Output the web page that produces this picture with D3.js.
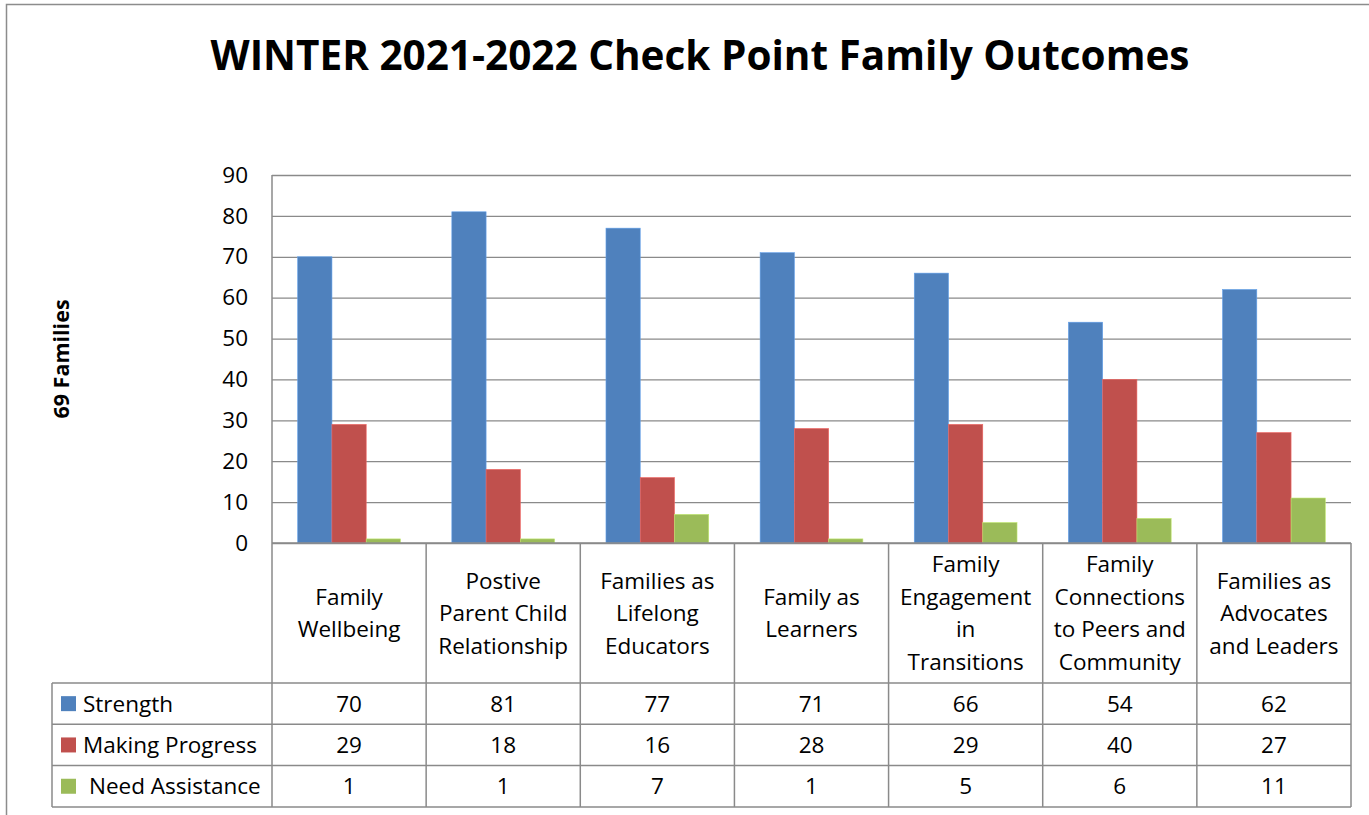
<!DOCTYPE html>
<html>
<head>
<meta charset="utf-8">
<script src="https://cdn.jsdelivr.net/npm/d3@7"></script>
<style>
  body { margin: 0; background: #fff; }
  svg text { font-family: "Open Sans", "Noto Sans", sans-serif; fill: #000; }
</style>
</head>
<body>
<svg id="chart" width="1369" height="815"></svg>
<script>
// chart data
const title = "WINTER 2021-2022 Check Point Family Outcomes";
const yTitle = "69 Families";
const categories = [
  ["Family", "Wellbeing"],
  ["Postive", "Parent Child", "Relationship"],
  ["Families as", "Lifelong", "Educators"],
  ["Family as", "Learners"],
  ["Family", "Engagement", "in", "Transitions"],
  ["Family", "Connections", "to Peers and", "Community"],
  ["Families as", "Advocates", "and Leaders"]
];
const seriesNames = ["Strength", "Making Progress", "Need Assistance"];
const strength = [70, 81, 77, 71, 66, 54, 62];
const makingProgress = [29, 18, 16, 28, 29, 40, 27];
const needAssistance = [1, 1, 7, 1, 5, 6, 11];
const yTicks = [0, 10, 20, 30, 40, 50, 60, 70, 80, 90];
const colors = ["#4F81BD", "#C0504D", "#9BBB59"];

const values = [strength, makingProgress, needAssistance];

const svg = d3.select("#chart");
const gridColor = "#8a8a8a";
const fs = "22.5px";

// layout
const plotLeft = 272, plotRight = 1351, plotTop = 175, base = 543;
const headBottom = 683, rowH = 41.3;
const tableLeft = 52;

// outer frame
svg.append("path")
  .attr("d", "M6.5,815 L6.5,4.5 L1369,4.5")
  .attr("fill", "none").attr("stroke", "#8c8c8c").attr("stroke-width", 1.5);

// title
svg.append("text")
  .attr("x", 700).attr("y", 70)
  .attr("text-anchor", "middle")
  .style("font-size", "40.5px").style("font-weight", "bold")
  .text(title);

// scales
const x = d3.scaleBand().domain(d3.range(categories.length)).range([plotLeft, plotRight]);
const bw = x.bandwidth();
const x1 = d3.scaleBand().domain(d3.range(seriesNames.length)).range([bw / 6, bw * 5 / 6]);
const y = d3.scaleLinear().domain([0, 90]).range([base, plotTop]);

// gridlines + y labels
const yAxis = svg.append("g")
  .attr("transform", `translate(${plotLeft},0)`)
  .call(d3.axisLeft(y).tickValues(yTicks).tickSize(-(plotRight - plotLeft)).tickPadding(24));
yAxis.select(".domain").remove();
yAxis.selectAll(".tick line").attr("stroke", gridColor).attr("stroke-width", 1.3);
yAxis.selectAll(".tick text")
  .style("font-size", fs)
  .attr("font-family", null);

// y title
svg.append("text")
  .attr("transform", "translate(69,359) rotate(-90)")
  .attr("text-anchor", "middle")
  .style("font-size", "21.5px").style("font-weight", "bold")
  .text(yTitle);

// bars
const groups = svg.append("g").selectAll("g")
  .data(categories.map((c, i) => i))
  .join("g")
  .attr("transform", i => `translate(${x(i)},0)`);

groups.selectAll("rect")
  .data(i => values.map((v, s) => ({ s: s, v: v[i] })))
  .join("rect")
  .attr("x", d => x1(d.s))
  .attr("width", x1.bandwidth())
  .attr("y", d => y(d.v))
  .attr("height", d => base - y(d.v))
  .attr("fill", d => colors[d.s])
  .attr("stroke", d => d3.color(colors[d.s]).brighter(0.6))
  .attr("stroke-width", 0.6);

// table lines
const tableBottom = headBottom + rowH * 3;
const lines = svg.append("g").attr("stroke", gridColor).attr("stroke-width", 1.5);
// vertical axis line
lines.append("line").attr("x1", plotLeft).attr("x2", plotLeft).attr("y1", plotTop).attr("y2", tableBottom);
// category separators
x.domain().forEach(i => {
  lines.append("line")
    .attr("x1", x(i) + bw).attr("x2", x(i) + bw)
    .attr("y1", base).attr("y2", tableBottom);
});
// horizontal lines
lines.append("line").attr("x1", plotLeft).attr("x2", plotRight).attr("y1", base).attr("y2", base);
[0, 1, 2, 3].forEach(r => {
  lines.append("line")
    .attr("x1", tableLeft).attr("x2", plotRight)
    .attr("y1", headBottom + r * rowH).attr("y2", headBottom + r * rowH);
});
lines.append("line").attr("x1", tableLeft).attr("x2", tableLeft).attr("y1", headBottom).attr("y2", tableBottom);

// category labels
const lineH = 32.5;
const midHead = (base + headBottom) / 2;
categories.forEach((c, i) => {
  const t = svg.append("text")
    .attr("text-anchor", "middle")
    .style("font-size", fs);
  c.forEach((ln, k) => {
    t.append("tspan")
      .attr("x", x(i) + bw / 2)
      .attr("y", midHead + (k - (c.length - 1) / 2) * lineH + 8)
      .text(ln);
  });
});

// legend + values
seriesNames.forEach((name, s) => {
  const cy = headBottom + rowH * s + rowH / 2;
  svg.append("rect")
    .attr("x", 61).attr("y", cy - 7.5)
    .attr("width", 15).attr("height", 15)
    .attr("fill", colors[s]);
  svg.append("text")
    .attr("x", s === 2 ? 89 : 83).attr("y", cy + 8)
    .style("font-size", fs)
    .text(name);
  values[s].forEach((v, i) => {
    svg.append("text")
      .attr("x", x(i) + bw / 2).attr("y", cy + 8)
      .attr("text-anchor", "middle")
      .style("font-size", fs)
      .text(v);
  });
});
</script>
</body>
</html>
